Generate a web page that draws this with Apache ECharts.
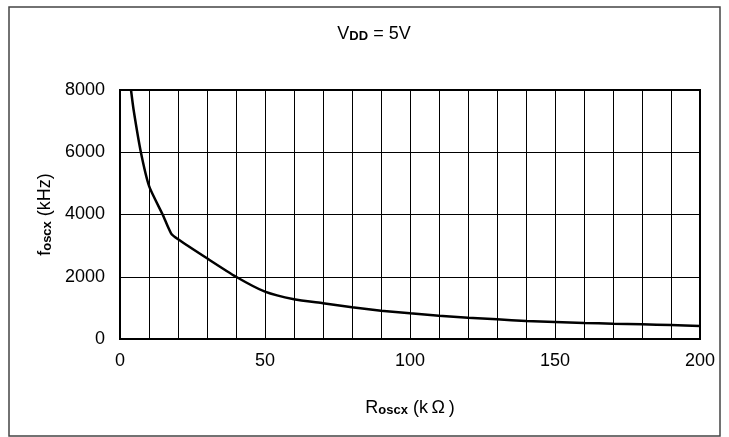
<!DOCTYPE html>
<html>
<head>
<meta charset="utf-8">
<script src="https://cdn.jsdelivr.net/npm/echarts@6/dist/echarts.min.js"></script>
<style>
  html, body { margin: 0; padding: 0; background: #fff; }
  #chart { width: 729px; height: 437px; }
</style>
</head>
<body>
<div id="chart"></div>
<script>
  // Roscx (kOhm) vs foscx (kHz)
  var resistance = [3.8, 4.7, 7.2, 10.1, 14.7, 17.6, 19.9, 30, 40, 50, 60, 70, 80, 90, 100, 110, 120, 130, 140, 150, 160, 170, 180, 190, 200]
  var frequency = [8000, 7357, 6000, 4893, 4000, 3396, 3213, 2593, 2000, 1520, 1275, 1147, 1018, 909, 826, 749, 684, 633, 578, 546, 514, 492, 472, 450, 418]
  var xLabels = [0, 50, 100, 150, 200]

  var font = '"Liberation Sans", Arial, sans-serif'
  var points = resistance.map(function (r, i) { return [r, frequency[i]] })
  var subStyle = { fontFamily: font, fontSize: 13, fontWeight: 'bold', color: '#000', verticalAlign: 'bottom', padding: [0, 0, 0, 0] }

  var chart = echarts.init(document.getElementById('chart'))
  chart.setOption({
    backgroundColor: '#fff',
    animation: false,
    textStyle: { fontFamily: font },
    graphic: [{
      type: 'rect',
      shape: { x: 9, y: 7, width: 711, height: 429 },
      style: { fill: 'none', stroke: '#444', lineWidth: 1.5 },
      silent: true
    }],
    title: {
      text: 'V{sub|DD} = 5V',
      left: 369,
      top: 20,
      textAlign: 'center',
      textStyle: {
        fontFamily: font,
        fontSize: 18,
        fontWeight: 'normal',
        color: '#000',
        rich: { sub: subStyle }
      }
    },
    grid: {
      left: 120,
      right: 29,
      top: 90,
      bottom: 98,
      show: true,
      borderColor: '#000',
      borderWidth: 2
    },
    xAxis: {
      type: 'value',
      min: 0,
      max: 200,
      interval: 10,
      name: 'R{sub|oscx} (k\u2009\u03A9\u2009)',
      nameLocation: 'middle',
      nameGap: 60,
      nameTextStyle: {
        fontFamily: font,
        fontSize: 18,
        color: '#000',
        rich: { sub: subStyle }
      },
      axisLine: { lineStyle: { color: '#000', width: 2 } },
      axisTick: { show: false },
      axisLabel: {
        color: '#000',
        fontSize: 18,
        margin: 13,
        formatter: function (v) { return xLabels.indexOf(v) >= 0 ? String(v) : '' }
      },
      splitLine: { lineStyle: { color: '#000', width: 1 } }
    },
    yAxis: {
      type: 'value',
      min: 0,
      max: 8000,
      interval: 2000,
      name: 'f{sub|oscx} (kHz)',
      nameLocation: 'middle',
      nameRotate: 90,
      nameGap: 66,
      nameTextStyle: {
        fontFamily: font,
        fontSize: 18,
        color: '#000',
        rich: { sub: subStyle }
      },
      axisLine: { show: true, lineStyle: { color: '#000', width: 2 } },
      axisTick: { show: false },
      axisLabel: { color: '#000', fontSize: 18, margin: 15, formatter: function (v) { return String(v) } },
      splitLine: { lineStyle: { color: '#000', width: 1 } }
    },
    series: [{
      type: 'line',
      data: points,
      smooth: 0.2,
      symbol: 'none',
      clip: true,
      lineStyle: { color: '#000', width: 2.5 }
    }]
  })
</script>
</body>
</html>
